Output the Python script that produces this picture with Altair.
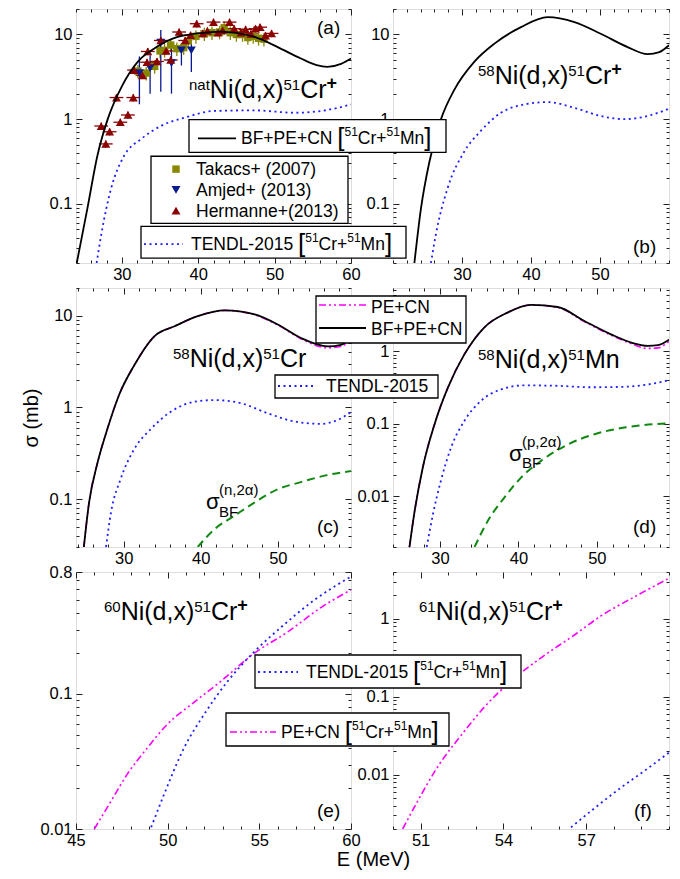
import altair as alt
import pandas as pd

FONT = "Liberation Sans"
TICK_FS = 16.5
LEG_FS = 17.5

# ---------------- data (E in MeV, sigma in mb) ----------------
# (a) natNi(d,x)51Cr+
a_bf_E = [24.1, 25.5, 26.8, 28.15, 30.0, 32.1, 34.25, 37.3, 41.4, 42.8, 44.3, 47.4, 50.4, 53.45, 55.5, 56.9, 58.7, 60.0]
a_bf_v = [0.02, 0.089, 0.37, 1.0, 2.44, 4.78, 6.83, 9.35, 10.6, 10.8, 10.6, 9.35, 7.1, 5.2, 4.35, 4.15, 4.5, 5.2]
a_tendl_E = [26.7, 27.3, 28.6, 30.3, 32.5, 35.1, 38.2, 42.1, 47.4, 52.6, 56.1, 60.0]
a_tendl_v = [0.02, 0.043, 0.152, 0.37, 0.58, 0.83, 1.04, 1.25, 1.27, 1.19, 1.25, 1.49]

herm_E = [27.3, 27.9, 28.4, 29.3, 29.8, 30.8, 31.5, 31.6, 32.7, 33.3, 33.4, 34.6, 35.1, 35.8, 36.4,
          37.5, 38.3, 39.0, 39.8, 40.6, 41.2, 42.0, 42.6, 43.2, 44.1, 44.7, 45.6, 46.2, 46.9, 47.5,
          48.1, 48.8, 49.6]
herm_v = [0.83, 0.51, 0.71, 1.8, 0.92, 1.12, 1.8, 3.8, 3.3, 4.7, 6.3, 4.8, 8.5, 6.4, 5.0,
          10.7, 8.5, 9.8, 13.4, 10.3, 11.0, 14.0, 10.5, 11.2, 14.0, 11.7, 10.5, 11.5, 10.2, 11.7,
          12.2, 9.7, 10.3]
herm_dE = 0.9      # horizontal error half-width (MeV)
herm_dv = 0.10     # relative vertical error

tak_E = [32.1, 33.2, 34.3, 35.0, 35.6, 36.4, 37.2, 38.1, 38.7, 39.7, 40.8, 41.8, 42.8, 43.4,
         44.2, 45.0, 45.8, 46.5, 47.2, 47.9, 48.6]
tak_v = [3.7, 3.5, 4.2, 6.4, 6.5, 7.5, 6.8, 7.0, 8.4, 9.5, 10.2, 10.5, 10.7, 12.0,
         10.5, 10.0, 10.0, 9.2, 9.5, 9.0, 8.8]
tak_dv = 0.18

amj_E = [32.3, 33.7, 35.1, 36.5, 37.8, 39.1]
amj_v = [3.5, 4.0, 8.0, 4.6, 6.5, 6.5]
amj_lo = [1.5, 2.0, 2.1, 2.0, 4.3, 3.6]
amj_hi = [5.5, 5.7, 11.3, 8.2, 7.8, 8.2]

# (b) 58Ni(d,x)51Cr+
b_bf_E = [23.1, 24.06, 25.26, 26.96, 28.9, 31.8, 34.7, 38.55, 42.4, 46.3, 50.1, 54.0, 56.9, 58.6, 60.0]
b_bf_v = [0.02, 0.089, 0.31, 1.0, 2.23, 4.78, 7.8, 12.2, 16.0, 14.0, 10.2, 7.1, 5.86, 6.2, 7.46]
b_tendl_E = [25.5, 26.2, 27.9, 30.3, 32.75, 35.65, 39.0, 42.4, 46.3, 50.1, 53.5, 56.9, 60.0]
b_tendl_v = [0.02, 0.043, 0.152, 0.41, 0.73, 1.19, 1.49, 1.59, 1.36, 1.09, 1.0, 1.09, 1.33]

# (c) 58Ni(d,x)51Cr
c_bf_E = [24.8, 25.5, 26.6, 27.9, 29.4, 31.4, 33.97, 36.6, 39.6, 43.1, 47.0, 50.0, 53.0, 56.5, 58.2, 59.5]
c_bf_v = [0.029, 0.092, 0.25, 0.59, 1.37, 2.91, 5.95, 7.66, 9.86, 11.4, 10.3, 8.0, 5.7, 4.62, 4.8, 5.7]
c_pe_v = [0.029, 0.092, 0.25, 0.59, 1.37, 2.91, 5.95, 7.66, 9.86, 11.4, 10.2, 7.9, 5.6, 4.45, 4.6, 5.5]
c_tendl_E = [27.7, 28.35, 29.6, 31.4, 33.6, 36.1, 39.2, 41.8, 45.2, 48.7, 52.2, 55.6, 57.8, 59.5]
c_tendl_v = [0.03, 0.072, 0.166, 0.355, 0.59, 0.895, 1.15, 1.2, 1.11, 0.86, 0.70, 0.66, 0.73, 0.89]
c_bfn_E = [39.6, 41.8, 44.4, 47.0, 50.0, 53.0, 56.1, 59.5]
c_bfn_v = [0.03, 0.047, 0.066, 0.092, 0.128, 0.153, 0.18, 0.202]

# (d) 58Ni(d,x)51Mn
d_bf_E = [26.1, 26.7, 27.8, 29.3, 31.0, 33.1, 35.6, 38.6, 41.6, 45.0, 48.4, 51.8, 54.4, 56.5, 57.8, 59.2]
d_bf_v = [0.002, 0.0057, 0.025, 0.099, 0.316, 0.91, 2.12, 3.43, 4.38, 4.1, 2.63, 1.72, 1.32, 1.19, 1.22, 1.45]
d_pe_v = [0.002, 0.0057, 0.025, 0.099, 0.316, 0.91, 2.12, 3.43, 4.38, 4.05, 2.58, 1.68, 1.28, 1.1, 1.12, 1.38]
d_tendl_E = [28.3, 29.1, 30.1, 31.4, 33.1, 35.2, 37.8, 40.7, 45.0, 49.2, 53.5, 56.5, 59.2]
d_tendl_v = [0.002, 0.0057, 0.0163, 0.047, 0.11, 0.207, 0.30, 0.34, 0.335, 0.32, 0.325, 0.35, 0.40]
d_bfp_E = [34.4, 36.1, 38.2, 40.3, 42.9, 46.3, 49.7, 53.5, 59.2]
d_bfp_v = [0.002, 0.0046, 0.0096, 0.018, 0.031, 0.052, 0.072, 0.089, 0.102]

# (e) 60Ni(d,x)51Cr+
e_pe_E = [46.0, 46.9, 47.8, 48.9, 50.0, 51.45, 52.9, 54.7, 56.55, 58.4, 60.0]
e_pe_v = [0.01, 0.016, 0.0255, 0.040, 0.06, 0.087, 0.124, 0.199, 0.288, 0.44, 0.59]
e_tendl_E = [49.1, 49.8, 50.9, 52.0, 53.3, 54.7, 56.2, 58.0, 60.0]
e_tendl_v = [0.0103, 0.018, 0.040, 0.071, 0.1255, 0.204, 0.313, 0.496, 0.74]

# (f) 61Ni(d,x)51Cr+
f_pe_E = [50.35, 50.9, 51.6, 52.5, 53.3, 54.3, 55.4, 56.6, 57.5, 58.75, 59.95]
f_pe_v = [0.002, 0.0046, 0.0123, 0.033, 0.073, 0.161, 0.323, 0.63, 1.07, 1.92, 3.25]
f_tendl_E = [56.45, 57.3, 58.26, 59.1, 60.0]
f_tendl_v = [0.0021, 0.0037, 0.0068, 0.0111, 0.0192]

# ---------------- styles ----------------
STY = {
    'bf': dict(color='black', strokeWidth=1.8),
    'tendl': dict(color='#1e1eff', strokeWidth=1.8, strokeDash=[2, 3.5]),
    'pe': dict(color='#ff00ff', strokeWidth=1.6, strokeDash=[7, 3, 2, 3, 2, 3]),
    'bfx': dict(color='#118811', strokeWidth=2, strokeDash=[8, 5]),
}
C_HERM = '#8b0000'
C_TAK = '#878700'
C_AMJ = '#0a1a8f'

# Arial / Liberation Sans advance widths (per em)
AW = {' ': .278, '(': .333, ')': .333, ',': .278, '.': .278, '+': .584, '-': .333, '[': .278, ']': .278,
      'A': .667, 'B': .667, 'C': .722, 'D': .722, 'E': .667, 'F': .611, 'H': .722, 'L': .556, 'M': .833,
      'N': .722, 'P': .667, 'T': .611, 'a': .556, 'c': .5, 'd': .556, 'e': .556, 'i': .222, 'j': .222,
      'k': .5, 'm': .833, 'n': .556, 'p': .556, 'r': .333, 's': .5, 't': .278, 'x': .5, 'b': .556,
      'σ': .57, 'α': .58}


def tw(s, size):
    return sum(AW.get(ch, .556) for ch in s) * size


def rich(x, y, segs):
    rows, cx = [], x
    for seg in segs:
        t, s, r = seg[0], seg[1], seg[2]
        b = seg[3] if len(seg) > 3 else False
        rows.append({'px': cx, 'py': y - r, 'txt': t, 'fs': s, 'bold': b})
        cx += tw(t, s)
    return rows


def bracket_label(x, y, head):
    return rich(x, y, [(head + " ", LEG_FS, 0), ("[", 26, -2), ("51", 12, 8), ("Cr+", LEG_FS, 0),
                       ("51", 12, 8), ("Mn", LEG_FS, 0), ("]", 26, -2)])


def iso_label(x, y, mass, prod, plus=True):
    segs = [(mass, 15, 8), ("Ni(d,x)", 25, 0), ("51", 15, 8), (prod, 25, 0)]
    if plus:
        segs.append(("+", 18, 9, True))
    return rich(x, y, segs)


def xscale(d):
    return alt.Scale(domain=list(d), nice=False, zero=False)


def yscale(d):
    return alt.Scale(type='log', domain=list(d), nice=False)


def log_minor(lo, hi, major):
    out = []
    for e in range(-4, 3):
        for m in range(2, 10):
            v = round(m * 10 ** e, 6)
            if lo * 0.999 <= v <= hi * 1.001 and v not in major:
                out.append(v)
    return out


def axis_layers(xd, yd, xmaj, xmn, ymaj, ymn, yextra=None, xextra=None):
    xs, ys = xscale(xd), yscale(yd)
    base = alt.Chart(pd.DataFrame({'E': [xd[0]], 'v': [yd[0]]})).mark_point(opacity=0)
    com = dict(domain=False, grid=False, tickColor='#222', tickWidth=1, labelFlush=False,
               labelOverlap=False, labelFont=FONT, labelFontSize=TICK_FS, labelColor='black')

    def ax(orient, vals, size, labels, extra):
        kw = dict(com, orient=orient, values=vals, tickSize=size, offset=-size, labels=labels, title=None)
        if labels:
            kw.update(labelExpr="datum.value + ''", labelPadding=4 if orient == 'left' else 3)
        if extra:
            kw.update(extra)
        return alt.Axis(**kw)

    specs = [('bottom', xmaj, 6, True, xextra, 'left', ymaj, 6, True, yextra),
             ('bottom', xmn, 3, False, None, 'left', ymn, 3, False, None),
             ('top', xmaj, 6, False, None, 'right', ymaj, 6, False, None),
             ('top', xmn, 3, False, None, 'right', ymn, 3, False, None)]
    out = []
    for xo, xv, xsz, xl, xe, yo, yv, ysz, yl, ye in specs:
        out.append(base.encode(x=alt.X('E:Q', scale=xs, axis=ax(xo, xv, xsz, xl, xe)),
                               y=alt.Y('v:Q', scale=ys, axis=ax(yo, yv, ysz, yl, ye))))
    return out


def line_layer(E, v, sty, xd, yd):
    df = pd.DataFrame({'E': E, 'v': v})
    return alt.Chart(df).mark_line(clip=True, interpolate='monotone', **STY[sty]).encode(
        x=alt.X('E:Q', scale=xscale(xd), axis=None), y=alt.Y('v:Q', scale=yscale(yd), axis=None))


def to_local(rows, org):
    ox, oy, sy = org
    return [dict(r, px=r['px'] - ox, py=(r['py'] - oy) * sy) for r in rows]


def text_layers(rows):
    out = []
    for bold in (False, True):
        sub = [r for r in rows if r['bold'] == bold]
        if not sub:
            continue
        out.append(alt.Chart(pd.DataFrame(sub)).mark_text(
            align='left', baseline='alphabetic', font=FONT, color='black', clip=False,
            fontWeight='bold' if bold else 'normal').encode(
            x=alt.X('px:Q', scale=None, axis=None), y=alt.Y('py:Q', scale=None, axis=None),
            text='txt:N', size=alt.Size('fs:Q', scale=None, legend=None)))
    return out


def box_layer(boxes, org):
    ox, oy, sy = org
    df = pd.DataFrame([{'x0': b[0] - ox, 'x1': b[2] - ox, 'y0': (b[1] - oy) * sy, 'y1': (b[3] - oy) * sy}
                       for b in boxes])
    return alt.Chart(df).mark_rect(fill='white', stroke='black', strokeWidth=1.3, clip=False).encode(
        x=alt.X('x0:Q', scale=None, axis=None), x2='x1:Q',
        y=alt.Y('y0:Q', scale=None, axis=None), y2='y1:Q')


def sample_layer(x0, x1, y, sty, org):
    ox, oy, sy = org
    return alt.Chart(pd.DataFrame({'d': [0]})).mark_rule(clip=False, **STY[sty]).encode(
        x=alt.value(x0 - ox), x2=alt.value(x1 - ox), y=alt.value((y - oy) * sy))


# panel geometry (reference page coordinates -> local)
H1 = 254
ORG = {'a': (75, 5, H1 / 257), 'b': (392, 5, H1 / 257), 'c': (75, 287, 1), 'd': (392, 287, 1),
       'e': (75, 572, 1), 'f': (392, 572, 1)}

# ---------------- panel (a) ----------------
XA, YA = (24, 60), (0.02, 20)
Y_MAJ = [0.1, 1, 10]
la = axis_layers(XA, YA, [30, 40, 50, 60], [v for v in range(24, 61, 2) if v % 10],
                 Y_MAJ, log_minor(*YA, Y_MAJ))
la.append(line_layer(a_tendl_E, a_tendl_v, 'tendl', XA, YA))
herm = pd.DataFrame({'E': herm_E, 'v': herm_v})
herm['lo'] = herm.v * (1 - herm_dv)
herm['hi'] = herm.v * (1 + herm_dv)
herm['El'] = herm.E - herm_dE
herm['Eh'] = herm.E + herm_dE
tak = pd.DataFrame({'E': tak_E, 'v': tak_v})
tak['lo'] = tak.v * (1 - tak_dv)
tak['hi'] = tak.v * (1 + tak_dv)
amj = pd.DataFrame({'E': amj_E, 'v': amj_v, 'lo': amj_lo, 'hi': amj_hi})
xsa, ysa = xscale(XA), yscale(YA)
for df, col in ((tak, C_TAK), (amj, C_AMJ), (herm, C_HERM)):
    la.append(alt.Chart(df).mark_rule(color=col, strokeWidth=1.3, clip=True).encode(
        x=alt.X('E:Q', scale=xsa, axis=None), y=alt.Y('lo:Q', scale=ysa, axis=None), y2='hi:Q'))
la.append(alt.Chart(herm).mark_rule(color=C_HERM, strokeWidth=1.3, clip=True).encode(
    x=alt.X('El:Q', scale=xsa, axis=None), x2='Eh:Q', y=alt.Y('v:Q', scale=ysa, axis=None)))
for df, col, shp, sz in ((tak, C_TAK, 'square', 55), (amj, C_AMJ, 'triangle-down', 80),
                         (herm, C_HERM, 'triangle-up', 80)):
    la.append(alt.Chart(df).mark_point(shape=shp, filled=True, size=sz, color=col, opacity=1, clip=True).encode(
        x=alt.X('E:Q', scale=xsa, axis=None), y=alt.Y('v:Q', scale=ysa, axis=None)))
la.append(line_layer(a_bf_E, a_bf_v, 'bf', XA, YA))
la.append(box_layer([(150, 154, 347, 222)], ORG['a']))
for yy, col, shp, sz in ((167, C_TAK, 'square', 55), (188, C_AMJ, 'triangle-down', 80),
                         (209, C_HERM, 'triangle-up', 80)):
    la.append(alt.Chart(pd.DataFrame({'d': [0]})).mark_point(shape=shp, filled=True, size=sz, color=col,
                                                              opacity=1).encode(
        x=alt.value(175 - 75), y=alt.value((yy - 5) * H1 / 257)))
ta = (iso_label(188, 95, "nat", "Cr") + rich(316, 30, [("(a)", 19, 0)])
      + rich(195, 173, [("Takacs+ (2007)", LEG_FS, 0)]) + rich(195, 194, [("Amjed+ (2013)", LEG_FS, 0)])
      + rich(195, 215, [("Hermanne+(2013)", LEG_FS, 0)]))
la += text_layers(to_local(ta, ORG['a']))
pa = alt.layer(*la).resolve_axis(x='independent', y='independent').properties(width=275, height=H1)

# ---------------- panel (b) ----------------
XB, YB = (20, 60), (0.02, 20)
lb = axis_layers(XB, YB, [30, 40, 50], [v for v in range(20, 61, 2) if v not in (30, 40, 50)],
                 Y_MAJ, log_minor(*YB, Y_MAJ))
lb.append(line_layer(b_tendl_E, b_tendl_v, 'tendl', XB, YB))
lb.append(line_layer(b_bf_E, b_bf_v, 'bf', XB, YB))
lb.append(box_layer([(188, 117, 445, 150), (140, 225, 405, 257)], ORG['b']))
lb.append(sample_layer(197, 235, 136, 'bf', ORG['b']))
lb.append(sample_layer(143, 182, 243, 'tendl', ORG['b']))
tb = (iso_label(477, 81, "58", "Cr") + rich(632, 252, [("(b)", 19, 0)])
      + bracket_label(240, 142, "BF+PE+CN") + bracket_label(190, 249, "TENDL-2015"))
lb += text_layers(to_local(tb, ORG['b']))
pb = alt.layer(*lb).resolve_axis(x='independent', y='independent').properties(width=276, height=H1)

# ---------------- panel (c) ----------------
XC, YC = (23.8, 59.5), (0.03, 20)
lc = axis_layers(XC, YC, [30, 40, 50], [v for v in range(24, 60, 2) if v % 10],
                 Y_MAJ, log_minor(*YC, Y_MAJ),
                 yextra=dict(title='σ  (mb)', titleFont=FONT, titleFontSize=20, titleFontWeight='normal',
                             titleColor='black', titlePadding=8))
lc.append(line_layer(c_tendl_E, c_tendl_v, 'tendl', XC, YC))
lc.append(line_layer(c_bfn_E, c_bfn_v, 'bfx', XC, YC))
lc.append(line_layer(c_bf_E, c_pe_v, 'pe', XC, YC))
lc.append(line_layer(c_bf_E, c_bf_v, 'bf', XC, YC))
tc = (iso_label(172, 366, "58", "Cr", plus=False) + rich(316, 532, [("(c)", 19, 0)])
      + rich(205, 508, [("σ", 22, 0)]) + rich(218, 494, [("(n,2α)", 15, 0)]) + rich(218, 516, [("BF", 15, 0)]))
lc += text_layers(to_local(tc, ORG['c']))
pc = alt.layer(*lc).resolve_axis(x='independent', y='independent').properties(width=275, height=259)

# ---------------- panel (d) ----------------
XD, YD = (24, 59.2), (0.002, 7.5)
YD_MAJ = [0.01, 0.1, 1]
ld = axis_layers(XD, YD, [30, 40, 50], [v for v in range(24, 60, 2) if v % 10],
                 YD_MAJ, log_minor(*YD, YD_MAJ))
ld.append(line_layer(d_tendl_E, d_tendl_v, 'tendl', XD, YD))
ld.append(line_layer(d_bfp_E, d_bfp_v, 'bfx', XD, YD))
ld.append(line_layer(d_bf_E, d_pe_v, 'pe', XD, YD))
ld.append(line_layer(d_bf_E, d_bf_v, 'bf', XD, YD))
ld.append(box_layer([(315, 295, 465, 342), (274, 374, 437, 397)], ORG['d']))
ld.append(sample_layer(318, 365, 304, 'pe', ORG['d']))
ld.append(sample_layer(318, 365, 327, 'bf', ORG['d']))
ld.append(sample_layer(277, 313, 385, 'tendl', ORG['d']))
td = (iso_label(477, 367, "58", "Mn", plus=False) + rich(632, 532, [("(d)", 19, 0)])
      + rich(508, 460, [("σ", 22, 0)]) + rich(521, 446, [("(p,2α)", 15, 0)]) + rich(521, 467, [("BF", 15, 0)])
      + rich(370, 312, [("PE+CN", LEG_FS, 0)]) + rich(370, 334, [("BF+PE+CN", LEG_FS, 0)])
      + rich(325, 391, [("TENDL-2015", LEG_FS, 0)]))
ld += text_layers(to_local(td, ORG['d']))
pd_ = alt.layer(*ld).resolve_axis(x='independent', y='independent').properties(width=276, height=259)

# ---------------- panel (e) ----------------
XE, YE = (45, 60), (0.01, 0.8)
YE_MAJ = [0.01, 0.1, 0.8]
le = axis_layers(XE, YE, [45, 50, 55, 60], [v for v in range(45, 61) if v % 5],
                 YE_MAJ, log_minor(*YE, YE_MAJ),
                 xextra=dict(title='E (MeV)', titleFont=FONT, titleFontSize=20, titleFontWeight='normal',
                             titleColor='black', titleX=297, titleY=36, titleAlign='center',
                             titleBaseline='middle'))
le.append(line_layer(e_pe_E, e_pe_v, 'pe', XE, YE))
le.append(line_layer(e_tendl_E, e_tendl_v, 'tendl', XE, YE))
te = iso_label(103, 620, "60", "Cr") + rich(316, 817, [("(e)", 19, 0)])
le += text_layers(to_local(te, ORG['e']))
pe_ = alt.layer(*le).resolve_axis(x='independent', y='independent').properties(width=275, height=257)

# ---------------- panel (f) ----------------
XF, YF = (50, 60), (0.002, 4)
YF_MAJ = [0.01, 0.1, 1]
lf = axis_layers(XF, YF, [51, 54, 57], [v for v in range(50, 61) if v not in (51, 54, 57)],
                 YF_MAJ, log_minor(*YF, YF_MAJ))
lf.append(line_layer(f_pe_E, f_pe_v, 'pe', XF, YF))
lf.append(line_layer(f_tendl_E, f_tendl_v, 'tendl', XF, YF))
lf.append(box_layer([(254, 655, 520, 688), (225, 713, 448, 746)], ORG['f']))
lf.append(sample_layer(257, 297, 672, 'tendl', ORG['f']))
lf.append(sample_layer(229, 275, 732, 'pe', ORG['f']))
tf = (iso_label(418, 620, "61", "Cr") + rich(633, 817, [("(f)", 19, 0)])
      + bracket_label(305, 678, "TENDL-2015") + bracket_label(280, 738, "PE+CN"))
lf += text_layers(to_local(tf, ORG['f']))
pf = alt.layer(*lf).resolve_axis(x='independent', y='independent').properties(width=276, height=257)

chart = alt.concat(pa, pb, pc, pd_, pe_, pf, columns=2, spacing={'row': 25, 'column': 42},
                   bounds='flush').properties(
    padding={'left': 12, 'top': 0, 'right': 0, 'bottom': 4}
).configure_view(stroke='#222', strokeWidth=1.4).configure(font=FONT)

chart.save("out.html", embed_options={"renderer": "svg", "actions": False})
